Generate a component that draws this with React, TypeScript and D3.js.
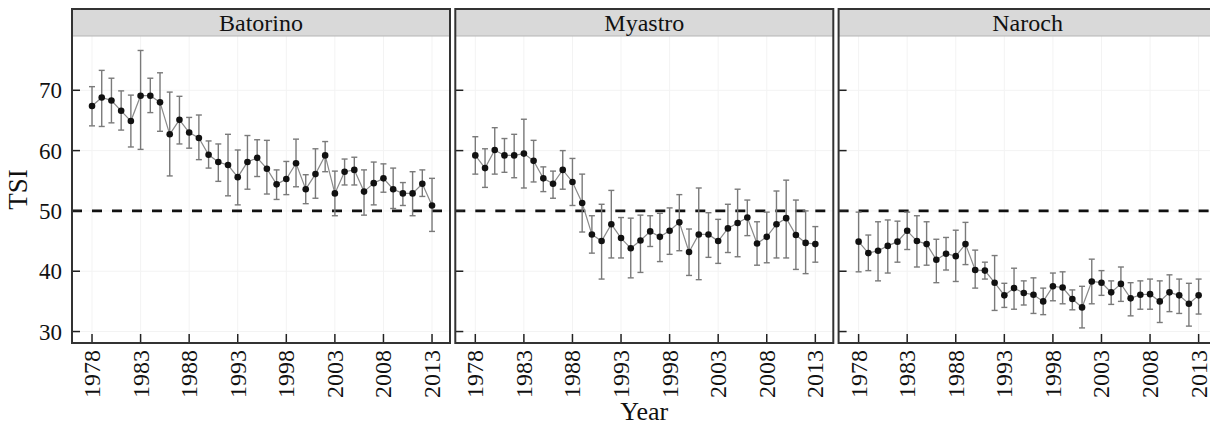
import React from "react";
import * as d3 from "d3";

const years = [1978,1979,1980,1981,1982,1983,1984,1985,1986,1987,1988,1989,1990,1991,1992,1993,1994,1995,1996,1997,1998,1999,2000,2001,2002,2003,2004,2005,2006,2007,2008,2009,2010,2011,2012,2013];
const xTicks = [1978, 1983, 1988, 1993, 1998, 2003, 2008, 2013];
const yTicks = [30, 40, 50, 60, 70];
const lakes = ["Batorino", "Myastro", "Naroch"];

const batorinoMean = [67.4,68.8,68.3,66.6,64.9,69.1,69.1,68.0,62.7,65.1,63.0,62.1,59.3,58.1,57.6,55.6,58.1,58.8,57.0,54.4,55.3,57.9,53.6,56.1,59.2,52.9,56.5,56.8,53.2,54.6,55.4,53.6,52.9,52.9,54.5,50.9];
const batorinoLo = [64.1,64.0,64.6,63.4,60.6,60.2,66.3,63.2,55.8,61.1,60.4,58.5,57.1,54.9,52.5,51.0,53.6,55.7,52.8,51.9,52.7,54.0,51.2,52.1,56.5,49.2,54.3,54.3,49.3,51.0,53.1,50.4,50.9,49.2,52.4,46.6];
const batorinoHi = [70.6,73.3,72.0,69.9,69.2,76.6,72.0,72.9,69.7,69.0,65.5,65.9,61.6,61.1,62.7,60.1,62.5,61.8,61.7,56.8,58.2,61.9,56.0,60.3,61.5,56.6,58.6,58.9,56.8,58.1,57.8,57.1,54.7,56.5,56.8,55.4];

const myastroMean = [59.2,57.1,60.1,59.2,59.2,59.5,58.3,55.4,54.5,56.8,54.8,51.3,46.1,45.0,47.8,45.5,43.8,45.1,46.6,45.7,46.7,48.1,43.2,46.1,46.1,45.0,47.1,48.0,48.9,44.6,45.7,47.8,48.8,46.0,44.7,44.5];
const myastroLo = [56.1,53.9,56.1,56.4,55.5,53.8,54.8,53.2,52.1,53.6,50.9,46.5,43.0,38.7,42.2,42.2,38.9,39.8,44.1,41.6,42.8,43.4,39.3,38.6,42.3,41.3,43.1,42.4,45.9,41.0,41.4,42.2,42.2,40.3,39.6,41.5];
const myastroHi = [62.3,60.3,63.8,62.0,62.7,65.2,61.7,57.3,56.6,60.0,58.7,56.1,49.2,51.1,53.4,48.9,48.8,49.3,49.2,49.6,50.5,52.7,47.0,53.8,49.7,48.6,51.1,53.6,51.8,48.2,49.8,53.3,55.1,51.8,50.0,47.4];

const narochMean = [44.9,43.0,43.4,44.2,44.9,46.7,45.0,44.5,41.9,42.9,42.5,44.5,40.2,40.1,38.1,36.0,37.2,36.4,36.1,35.0,37.5,37.3,35.4,34.0,38.3,38.1,36.5,37.9,35.5,36.1,36.2,35.0,36.5,36.0,34.6,36.0];
const narochLo = [39.9,40.1,38.4,39.7,41.5,43.6,40.7,41.0,38.1,40.2,38.3,41.1,37.2,38.7,33.5,34.0,33.7,34.4,33.0,32.8,35.1,34.6,33.6,30.6,34.6,36.0,34.5,35.0,32.6,33.7,33.7,31.5,33.3,33.0,30.9,32.9];
const narochHi = [49.8,46.0,48.2,48.5,48.3,49.8,49.2,48.2,45.3,45.6,46.8,48.1,43.5,41.5,42.6,38.0,40.5,38.4,38.9,37.2,39.7,39.9,36.9,37.5,42.0,40.1,38.4,40.7,38.1,38.4,38.7,38.4,39.4,38.7,38.0,38.7];

const threshold = 50;

const series = [
  { mean: batorinoMean, lo: batorinoLo, hi: batorinoHi },
  { mean: myastroMean, lo: myastroLo, hi: myastroHi },
  { mean: narochMean, lo: narochLo, hi: narochHi },
];

const W = 1210;
const H = 426;
const panelLeft0 = 72;
const panelStep = 383.3;
const panelW = 378;
const stripTop = 9;
const plotTop = 36;
const plotBottom = 343;
const FONT = "'Liberation Serif', 'Times New Roman', serif";

export default function App() {
  const x = d3.scaleLinear().domain([1975.94, 2014.85]).range([0, panelW]);
  const y = d3.scaleLinear().domain([28.1, 79.0]).range([plotBottom, plotTop]);

  return (
    <svg width={W} height={H} style={{ position: "absolute", left: 0, top: 0, background: "#fff" }} fontFamily={FONT}>
      <rect x={0} y={0} width={W} height={H} fill="#fff" />
      {lakes.map((lake, i) => {
        const left = panelLeft0 + i * panelStep;
        const s = series[i];
        const line = d3
          .line<number>()
          .x((_, k) => x(years[k]))
          .y((d) => y(d));
        return (
          <g key={lake} transform={`translate(${left},0)`}>
            {yTicks.map((t) => (
              <line key={"gy" + t} x1={0} x2={panelW} y1={y(t)} y2={y(t)} stroke="#f3f3f3" strokeWidth={1} />
            ))}
            {xTicks.map((t) => (
              <line key={"gx" + t} x1={x(t)} x2={x(t)} y1={plotTop} y2={plotBottom} stroke="#f3f3f3" strokeWidth={1} />
            ))}
            <line x1={0} x2={panelW} y1={y(threshold)} y2={y(threshold)} stroke="#111" strokeWidth={2.6} strokeDasharray="10,10" />
            {years.map((yr, k) => (
              <g key={"e" + yr} stroke="#7a7a7a" strokeWidth={1.4}>
                <line x1={x(yr)} x2={x(yr)} y1={y(s.lo[k])} y2={y(s.hi[k])} />
                <line x1={x(yr) - 3} x2={x(yr) + 3} y1={y(s.lo[k])} y2={y(s.lo[k])} />
                <line x1={x(yr) - 3} x2={x(yr) + 3} y1={y(s.hi[k])} y2={y(s.hi[k])} />
              </g>
            ))}
            <path d={line(s.mean) || ""} fill="none" stroke="#8a8a8a" strokeWidth={1.2} />
            {years.map((yr, k) => (
              <circle key={"p" + yr} cx={x(yr)} cy={y(s.mean[k])} r={3.3} fill="#111" />
            ))}
            {yTicks.map((t) => (
              <line key={"ty" + t} x1={0} x2={8} y1={y(t)} y2={y(t)} stroke="#222" strokeWidth={1.5} />
            ))}
            {xTicks.map((t) => (
              <line key={"tx" + t} x1={x(t)} x2={x(t)} y1={plotBottom} y2={plotBottom - 9} stroke="#222" strokeWidth={1.5} />
            ))}
            <rect x={0} y={stripTop} width={panelW} height={plotTop - stripTop} fill="#d9d9d9" />
            <line x1={0} x2={panelW} y1={plotTop} y2={plotTop} stroke="#b5b5b5" strokeWidth={1} />
            <text x={panelW / 2} y={31} textAnchor="middle" fontSize={24} fill="#111">{lake}</text>
            <rect x={0} y={stripTop} width={panelW} height={plotBottom - stripTop} fill="none" stroke="#333" strokeWidth={2} />
            {xTicks.map((t) => (
              <text
                key={"lx" + t}
                transform={`translate(${x(t)},350) rotate(-90)`}
                textAnchor="end"
                dy="0.33em"
                fontSize={24}
                fill="#111"
              >
                {t}
              </text>
            ))}
          </g>
        );
      })}
      {yTicks.map((t) => (
        <text key={"ly" + t} x={62} y={y(t)} dy="0.35em" textAnchor="end" fontSize={23} fill="#111">
          {t}
        </text>
      ))}
      <text transform={`translate(27,${(plotTop + plotBottom) / 2}) rotate(-90)`} textAnchor="middle" fontSize={27} fill="#111">
        TSI
      </text>
      <text x={panelLeft0 + panelStep + panelW / 2} y={420} textAnchor="middle" fontSize={26} fill="#111">
        Year
      </text>
    </svg>
  );
}
